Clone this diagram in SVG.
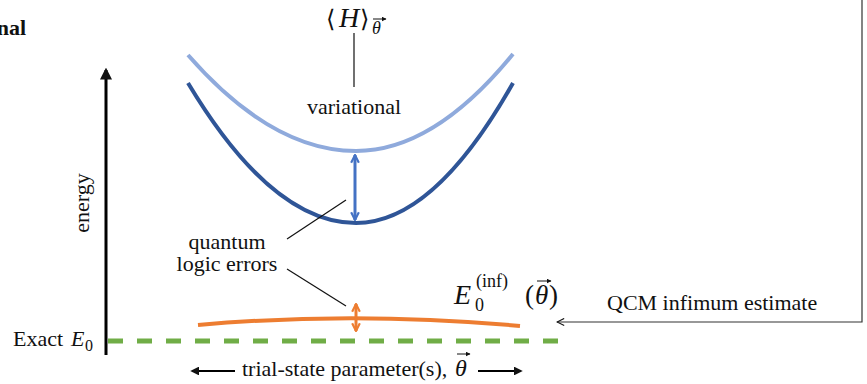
<svg xmlns="http://www.w3.org/2000/svg" width="867" height="384" viewBox="0 0 867 384">
<defs>
<style>
.t{font-family:"Liberation Serif","Times New Roman",serif;font-size:22px;fill:#111}
.m{font-family:"Liberation Serif","Times New Roman",serif;fill:#111}
.i{font-style:italic}
.br{font-family:"DejaVu Serif",serif}
.thin{stroke:#111;stroke-width:1.2;fill:none}
</style>
<marker id="ah" viewBox="0 0 10 10" refX="8" refY="5" markerWidth="4" markerHeight="4" orient="auto-start-reverse" markerUnits="strokeWidth"><path d="M0,0L10,5L0,10z" fill="#111"/></marker>
<marker id="ab" viewBox="0 0 10 10" refX="9" refY="5" markerWidth="3.2" markerHeight="3.2" orient="auto-start-reverse" markerUnits="strokeWidth"><path d="M1,1L9,5L1,9" fill="none" stroke="#4472c4" stroke-width="2.2"/></marker>
<marker id="ao" viewBox="0 0 10 10" refX="9" refY="5" markerWidth="3.2" markerHeight="3.2" orient="auto-start-reverse" markerUnits="strokeWidth"><path d="M1,1L9,5L1,9" fill="none" stroke="#ed7d31" stroke-width="2.2"/></marker>
<marker id="athin" viewBox="0 0 10 10" refX="9" refY="5" markerWidth="9" markerHeight="9" orient="auto" markerUnits="userSpaceOnUse"><path d="M1,1L9,5L1,9" fill="none" stroke="#111" stroke-width="1.2"/></marker>
<marker id="vec" viewBox="0 0 10 10" refX="9" refY="5" markerWidth="5" markerHeight="5" orient="auto" markerUnits="userSpaceOnUse"><path d="M0,0L10,5L0,10z" fill="#111"/></marker>
</defs>

<text x="26" y="35" text-anchor="end" class="m" font-size="22" font-weight="bold">nal</text>

<g id="axis">
<line x1="106" y1="355" x2="106" y2="70" stroke="#000" stroke-width="3" marker-end="url(#ah)"/>
<text x="0" y="0" class="t" text-anchor="middle" transform="translate(89,203) rotate(-90)">energy</text>
</g>

<g id="curve-variational">
<path d="M188,55 Q272,151 356,151 Q434,151 513,54" fill="none" stroke="#8faadc" stroke-width="4"/>
</g>
<g id="curve-noisy">
<path d="M188,83 Q272,223 356,223 Q434,223 513,83" fill="none" stroke="#2f5597" stroke-width="4"/>
</g>
<g id="curve-inf">
<path d="M198,325 Q355,311 520,326" fill="none" stroke="#ed7d31" stroke-width="4"/>
</g>
<g id="exact-line">
<line x1="108" y1="341" x2="566" y2="341" stroke="#70ad47" stroke-width="5" stroke-dasharray="15 14"/>
<text x="13" y="346" class="t">Exact <tspan class="i" x="71">E</tspan><tspan font-size="16" x="85" y="351">0</tspan></text>
</g>

<g id="label-H">
<text class="m" font-size="28" y="27"><tspan class="br" font-size="24" x="326">⟨</tspan><tspan class="i" x="339">H</tspan><tspan class="br" font-size="24" x="360">⟩</tspan><tspan class="i" font-size="18" x="372" y="34">θ</tspan></text>
<line x1="373" y1="19" x2="386" y2="19" stroke="#111" stroke-width="1" marker-end="url(#vec)"/>
</g>

<g id="label-variational">
<text x="354" y="114" class="t" text-anchor="middle">variational</text>
</g>

<g id="label-errors">
<text x="227" y="249" class="t" text-anchor="middle">quantum</text>
<text x="227" y="271" class="t" text-anchor="middle">logic errors</text>
</g>

<g id="label-Einf">
<text class="m" font-size="28"><tspan class="i" x="454" y="304">E</tspan><tspan font-size="18" x="475" y="311">0</tspan><tspan font-size="18" x="476" y="287">(inf)</tspan><tspan font-size="27" x="525" y="304">(</tspan><tspan class="i" font-size="27" x="535" y="304">θ</tspan><tspan font-size="27" x="549" y="304">)</tspan></text>
<line x1="537" y1="281" x2="551" y2="281" stroke="#111" stroke-width="1" marker-end="url(#vec)"/>
</g>

<g id="label-QCM">
<text x="607" y="310" class="t">QCM infimum estimate</text>
</g>

<g id="param-axis">
<line x1="235" y1="371" x2="192" y2="371" stroke="#000" stroke-width="2.2" marker-end="url(#ah)"/>
<text x="242" y="376" class="t">trial-state parameter(s), <tspan class="i" x="455" font-size="24">θ</tspan></text>
<line x1="457" y1="354" x2="470" y2="354" stroke="#111" stroke-width="1" marker-end="url(#vec)"/>
<line x1="478" y1="371" x2="521" y2="371" stroke="#000" stroke-width="2.2" marker-end="url(#ah)"/>
</g>

<g id="connectors">
<line x1="355" y1="155" x2="355" y2="220" stroke="#4472c4" stroke-width="3" marker-start="url(#ab)" marker-end="url(#ab)"/>
<line x1="356" y1="304" x2="356" y2="331" stroke="#ed7d31" stroke-width="3" marker-start="url(#ao)" marker-end="url(#ao)"/>
<line x1="354" y1="33" x2="354" y2="87" class="thin"/>
<line x1="287" y1="239" x2="346" y2="200" class="thin"/>
<line x1="287" y1="269" x2="346" y2="306" class="thin"/>
<polyline points="862,0 862,322 557,322" fill="none" stroke="#333" stroke-width="1.2" marker-end="url(#athin)"/>
</g>
</svg>
